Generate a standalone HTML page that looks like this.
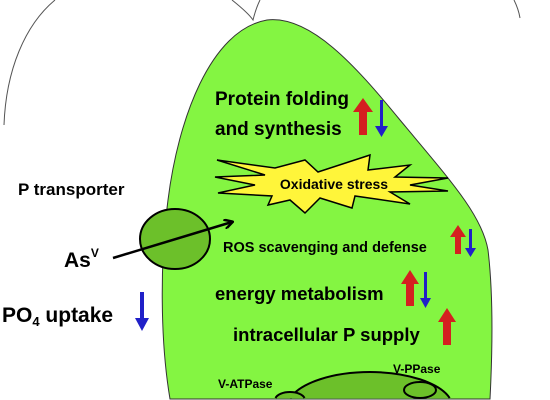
<!DOCTYPE html>
<html><head><meta charset="utf-8"><style>
html,body{margin:0;padding:0;background:#fff;width:550px;height:400px;overflow:hidden;}
svg{display:block;font-family:"Liberation Sans",sans-serif;font-weight:bold;overflow:hidden;}
</style></head><body>
<svg width="550" height="400" viewBox="0 0 550 400">
<defs>
<marker id="ah" markerWidth="10" markerHeight="10" refX="8" refY="5" orient="auto" markerUnits="userSpaceOnUse"><path d="M0,0 L9,5 L0,10" fill="none" stroke="#000" stroke-width="2.5"/></marker>
</defs>
<g fill="none" stroke="#555" stroke-width="1">
<path d="M4,125 C6,70 25,25 55,0"/>
<path d="M232,0 C242,8 249,14 253,20 C255,12 257,6 260,0"/>
<path d="M514,0 C517,6 519,12 520,18"/>
</g>
<path d="M267,20 C310,15 355,65 400,120 C450,180 482,215 488,250 C494,300 492,360 490,399 L170,399 C160,340 160,260 168,200 C178,120 210,30 267,20 Z" fill="#84f542" stroke="#333" stroke-width="1"/>
<g stroke="#000" stroke-width="2" fill="#6cc02a">
<path d="M290.3,398 A83,36 0 0 1 449.7,398"/>
<ellipse cx="420" cy="390" rx="16" ry="8"/>
<path d="M275.5,398 A15,8 0 0 1 304.5,398"/>
</g>
<text x="218" y="388" font-size="12">V-ATPase</text>
<text x="393" y="373" font-size="12">V-PPase</text>
<text x="215" y="105" font-size="19">Protein folding</text>
<text x="215" y="135" font-size="19">and synthesis</text>
<polygon fill="#fff53a" stroke="#000" stroke-width="1.5" points="217,160 275,168 305,160 318,172 370,155 368,170 410,165 395,177 448,178 410,185 448,191 390,192 410,204 355,196 352,208 320,198 305,213 290,200 268,205 272,196 218,193 255,185 215,177 265,175"/>
<text x="334" y="189" font-size="14" text-anchor="middle">Oxidative stress</text>
<text x="18" y="195" font-size="17">P transporter</text>
<ellipse cx="175" cy="239" rx="35" ry="30" fill="#6cc02a" stroke="#000" stroke-width="2"/>
<line x1="113" y1="258" x2="232" y2="222" stroke="#000" stroke-width="2.5" marker-end="url(#ah)"/>
<text x="64" y="267" font-size="21">As<tspan font-size="12" dy="-10">V</tspan></text>
<text x="2" y="322" font-size="21">PO<tspan font-size="13" dy="4">4</tspan><tspan dy="-4"> uptake</tspan></text>
<text x="223" y="252" font-size="14.5">ROS scavenging and defense</text>
<text x="215" y="300" font-size="18.5">energy metabolism</text>
<text x="233" y="341" font-size="18.5">intracellular P supply</text>
<g>
<path d="M363,98 L373,112 L367,112 L367,135 L359,135 L359,112 L353,112 Z" fill="#d42020"/>
<path d="M380,100 L383,100 L383,126 L388,126 L381.5,137 L375,126 L380,126 Z" fill="#2020c8"/>
<path d="M458,225 L466,237 L461,237 L461,254 L455,254 L455,237 L450,237 Z" fill="#d42020"/>
<path d="M469,229 L472,229 L472,248 L476,248 L470.5,257 L465,248 L469,248 Z" fill="#2020c8"/>
<path d="M410,270 L419,284 L414,284 L414,306 L406,306 L406,284 L401,284 Z" fill="#d42020"/>
<path d="M424,272 L427,272 L427,298 L431,298 L425.5,308 L420,298 L424,298 Z" fill="#2020c8"/>
<path d="M447,308 L456,322 L451,322 L451,345 L443,345 L443,322 L438,322 Z" fill="#d42020"/>
<path d="M140,292 L144,292 L144,318 L149,318 L142,331 L135,318 L140,318 Z" fill="#2020c8"/>
</g>
</svg>
</body></html>
